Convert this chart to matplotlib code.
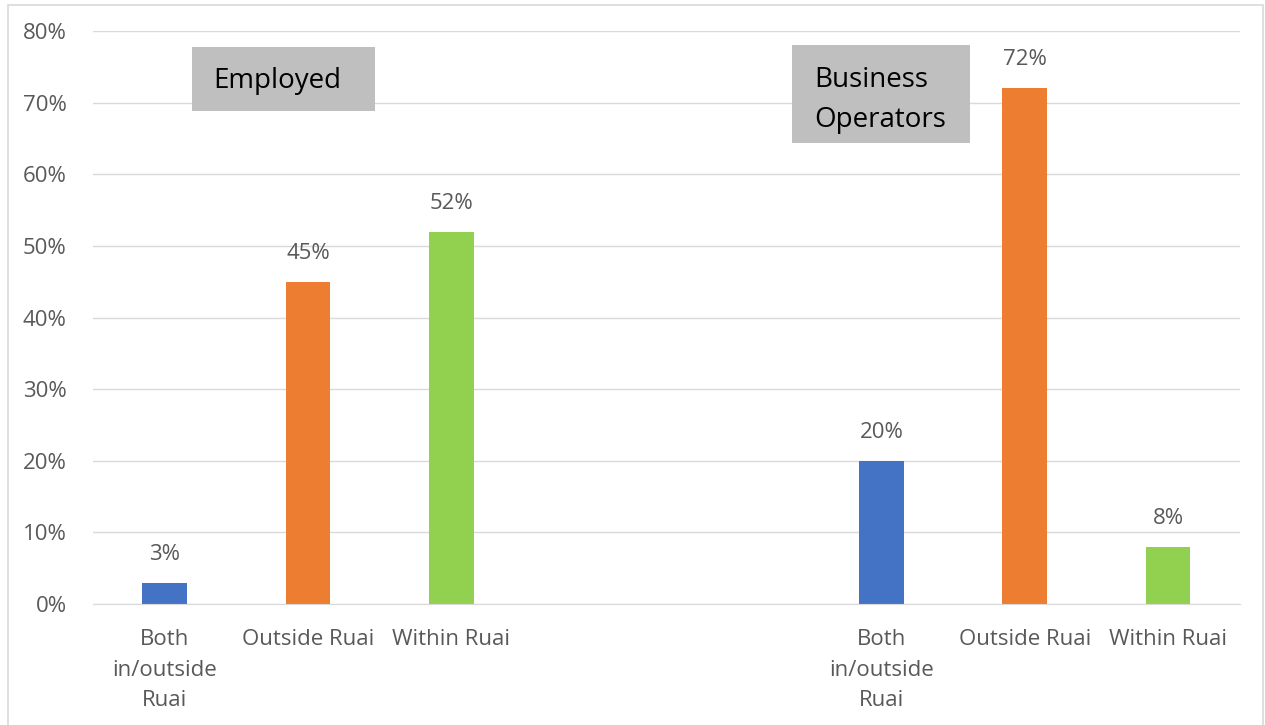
import matplotlib.pyplot as plt
from matplotlib.patches import Rectangle

# survey shares by work location, two groups side by side
categories = ["Both\nin/outside\nRuai", "Outside Ruai", "Within Ruai"]
employed = [3, 45, 52]
business = [20, 72, 8]
colors = ["#4472c4", "#ed7d31", "#92d050"]

plt.rcParams['font.family'] = ['Open Sans', 'DejaVu Sans']
grey = "#595959"

fig = plt.figure(figsize=(12.65, 7.25), dpi=100)
ax = fig.add_axes([0.0735, 0.1669, 0.9065, 0.7903])

# slots 0-2 employed, 3-4 left empty, 5-7 business operators
pos_emp = [0, 1, 2]
pos_bus = [5, 6, 7]
for pos, vals in ((pos_emp, employed), (pos_bus, business)):
    bars = ax.bar(pos, vals, width=0.31, color=colors, zorder=3)
    for b, v in zip(bars, vals):
        ax.text(b.get_x() + b.get_width() / 2, v + 2.5, f"{v}%",
                ha='center', va='bottom', fontsize=16, color=grey)

ax.set_xlim(-0.5, 7.5)
ax.set_ylim(0, 80)
ax.set_yticks(range(0, 81, 10))
ax.set_yticklabels([f"{t}%" for t in range(0, 81, 10)])
ax.set_xticks(pos_emp + pos_bus)
ax.set_xticklabels(categories * 2, linespacing=1.6)
ax.tick_params(axis='both', length=0, labelsize=16, labelcolor=grey)
ax.tick_params(axis='x', pad=18)
ax.tick_params(axis='y', pad=19)

ax.grid(axis='y', color='#d9d9d9', linewidth=1, zorder=0)
for side in ('top', 'right', 'left'):
    ax.spines[side].set_visible(False)
ax.spines['bottom'].set_color('#d9d9d9')
ax.spines['bottom'].set_zorder(4)

# group captions in grey boxes
ax.add_patch(Rectangle((0.19, 68.8), 1.28, 9.0, facecolor='#bfbfbf',
                       edgecolor='none', zorder=5, clip_on=False))
ax.text(0.34, 73.0, "Employed", ha='left', va='center', fontsize=20,
        color='black', zorder=6)
ax.add_patch(Rectangle((4.375, 64.4), 1.242, 13.6, facecolor='#bfbfbf',
                       edgecolor='none', zorder=5, clip_on=False))
ax.text(4.53, 70.4, "Business\nOperators", ha='left', va='center',
        fontsize=20, color='black', linespacing=1.55, zorder=6)

# thin chart border
fig.add_artist(Rectangle((8 / 1265, -0.01), 1255 / 1265, 1 - 5 / 725 + 0.01,
                         transform=fig.transFigure, fill=False,
                         edgecolor='#d9d9d9', linewidth=1.2))

fig.savefig("out.png", dpi=100)
